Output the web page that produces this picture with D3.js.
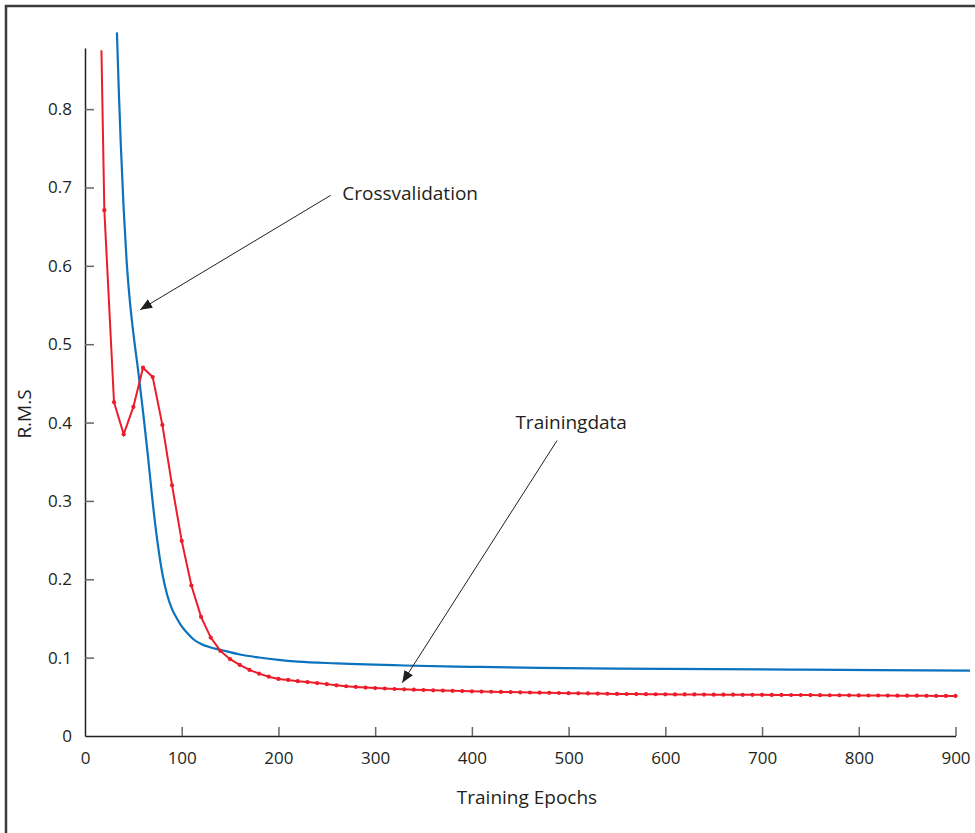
<!DOCTYPE html>
<html>
<head>
<meta charset="utf-8">
<script src="https://cdn.jsdelivr.net/npm/d3@7"></script>
<style>
  body { margin: 0; background: #fff; }
  text { font-family: "Open Sans", "Noto Sans", sans-serif; fill: #231f20; }
</style>
</head>
<body>
<svg id="chart" width="975" height="833"></svg>
<script>
// training data (red, marked every 10 epochs)
var trainEpochs = [17, 20, 30, 40, 50, 60, 70, 80, 90, 100, 110, 120, 130, 140, 150, 160, 170, 180, 190,
    200, 210, 220, 230, 240, 250, 260, 270, 280, 290, 300, 310, 320, 330, 340, 350, 360, 370, 380, 390,
    400, 410, 420, 430, 440, 450, 460, 470, 480, 490, 500, 510, 520, 530, 540, 550, 560, 570, 580, 590,
    600, 610, 620, 630, 640, 650, 660, 670, 680, 690, 700, 710, 720, 730, 740, 750, 760, 770, 780, 790,
    800, 810, 820, 830, 840, 850, 860, 870, 880, 890, 900];
var trainRms = [0.875, 0.671, 0.426, 0.385, 0.420, 0.470, 0.458, 0.397, 0.320, 0.249, 0.192, 0.152, 0.1256, 0.1086, 0.098, 0.0907, 0.0843, 0.0796, 0.0757,
    0.0728, 0.0715, 0.0700, 0.0688, 0.0675, 0.0662, 0.0647, 0.0635, 0.0626, 0.0618, 0.0612, 0.0606, 0.0600, 0.0596, 0.0591, 0.0587, 0.0583, 0.0580, 0.0577, 0.0573,
    0.0570, 0.0567, 0.0565, 0.0562, 0.0560, 0.0558, 0.0555, 0.0553, 0.0551, 0.0549, 0.0547, 0.0545, 0.0543, 0.0541, 0.0539, 0.0537, 0.0536, 0.0535, 0.0534, 0.0533,
    0.0532, 0.0531, 0.0530, 0.0530, 0.0529, 0.0528, 0.0527, 0.0527, 0.0526, 0.0525, 0.0525, 0.0524, 0.0524, 0.0523, 0.0523, 0.0522, 0.0521, 0.0520, 0.0520, 0.0519,
    0.0518, 0.0517, 0.0517, 0.0516, 0.0515, 0.0515, 0.0514, 0.0513, 0.0512, 0.0512, 0.0511];

// crossvalidation (blue, smooth)
var cvEpochs = [33, 35, 37, 40, 43, 46, 50, 55, 60, 65, 70, 75, 80, 85, 90, 95, 100, 106, 112, 120, 130, 140,
    160, 180, 200, 220, 260, 330, 400, 470, 550, 650, 730, 820, 915];
var cvRms = [0.898, 0.822, 0.755, 0.672, 0.607, 0.560, 0.514, 0.466, 0.414, 0.358, 0.298, 0.247, 0.207, 0.180, 0.162, 0.150, 0.140, 0.131, 0.1235, 0.1175, 0.1130, 0.1100,
    0.1040, 0.1002, 0.0972, 0.0950, 0.0927, 0.0900, 0.0883, 0.0870, 0.0861, 0.0853, 0.0847, 0.0840, 0.0834];

var xTicks = [0, 100, 200, 300, 400, 500, 600, 700, 800, 900];
var yTicks = [0, 0.1, 0.2, 0.3, 0.4, 0.5, 0.6, 0.7, 0.8];

// annotations: label, text anchor [epoch, rms], arrow tail, arrow tip
var noteLabels = ["Crossvalidation", "Trainingdata"];
var noteText = [[266, 0.693], [445, 0.400]];
var noteTail = [[254, 0.690], [488, 0.377]];
var noteTip = [[57, 0.544], [328, 0.068]];

var svg = d3.select("#chart");

var x = d3.scaleLinear().domain([0, 900]).range([85, 955.5]);
var y = d3.scaleLinear().domain([0, 0.878]).range([736, 48]);

// frame
svg.append("path")
    .attr("d", "M6,833V6H975")
    .attr("fill", "none")
    .attr("stroke", "#3b3b3b")
    .attr("stroke-width", 2.5);

// axes
var xAxis = d3.axisBottom(x).tickValues(xTicks).tickSize(-9).tickSizeOuter(0).tickPadding(16)
    .tickFormat(d3.format("d"));
var yAxis = d3.axisLeft(y).tickValues(yTicks).tickSize(-9).tickSizeOuter(0).tickPadding(13)
    .tickFormat(function (d) { return d === 0 ? "0" : d.toFixed(1); });

var gx = svg.append("g").attr("transform", "translate(0," + y(0) + ")").call(xAxis);
var gy = svg.append("g").attr("transform", "translate(" + x(0) + ",0)").call(yAxis);

[gx, gy].forEach(function (g) {
    g.select(".domain").attr("stroke", "#231f20").attr("stroke-width", 1.5);
    g.selectAll(".tick line").attr("stroke", "#666").attr("stroke-width", 1.5);
    g.selectAll(".tick text").attr("font-size", 17).attr("fill", "#231f20")
        .style("font-family", "'Open Sans', sans-serif");
});
gx.selectAll(".tick").filter(function (d) { return d === 0; }).select("line").remove();
gy.selectAll(".tick").filter(function (d) { return d === 0; }).select("line").remove();

// axis titles
svg.append("text")
    .attr("x", 527).attr("y", 804)
    .attr("text-anchor", "middle")
    .attr("font-size", 19)
    .text("Training Epochs");

svg.append("text")
    .attr("transform", "translate(31,414) rotate(-90)")
    .attr("text-anchor", "middle")
    .attr("font-size", 19)
    .text("R.M.S");

// lines
var cvData = cvEpochs.map(function (e, i) { return { e: e, v: cvRms[i] }; });
var trData = trainEpochs.map(function (e, i) { return { e: e, v: trainRms[i] }; });

var line = d3.line()
    .x(function (d) { return x(d.e); })
    .y(function (d) { return y(d.v); });

svg.append("path")
    .datum(cvData)
    .attr("d", line.curve(d3.curveMonotoneX))
    .attr("fill", "none")
    .attr("stroke", "#0b73bd")
    .attr("stroke-width", 2.2);

svg.append("path")
    .datum(trData)
    .attr("d", line.curve(d3.curveLinear))
    .attr("fill", "none")
    .attr("stroke", "#ec1c2a")
    .attr("stroke-width", 2);

svg.selectAll(".dot")
    .data(trData.filter(function (d) { return d.e % 10 === 0; }))
    .enter().append("circle")
    .attr("class", "dot")
    .attr("cx", function (d) { return x(d.e); })
    .attr("cy", function (d) { return y(d.v); })
    .attr("r", 2.1)
    .attr("fill", "#ec1c2a");

// arrows
svg.append("defs").append("marker")
    .attr("id", "head")
    .attr("viewBox", "0 0 12 10")
    .attr("refX", 12).attr("refY", 5)
    .attr("markerWidth", 12).attr("markerHeight", 10)
    .attr("markerUnits", "userSpaceOnUse")
    .attr("orient", "auto")
    .append("path")
    .attr("d", "M0,0L12,5L0,10Z")
    .attr("fill", "#231f20");

noteLabels.forEach(function (label, i) {
    svg.append("line")
        .attr("x1", x(noteTail[i][0])).attr("y1", y(noteTail[i][1]))
        .attr("x2", x(noteTip[i][0])).attr("y2", y(noteTip[i][1]))
        .attr("stroke", "#231f20")
        .attr("stroke-width", 1)
        .attr("marker-end", "url(#head)");
    svg.append("text")
        .attr("x", x(noteText[i][0])).attr("y", y(noteText[i][1]))
        .attr("dy", "0.35em")
        .attr("font-size", 19)
        .text(label);
});
</script>
</body>
</html>
